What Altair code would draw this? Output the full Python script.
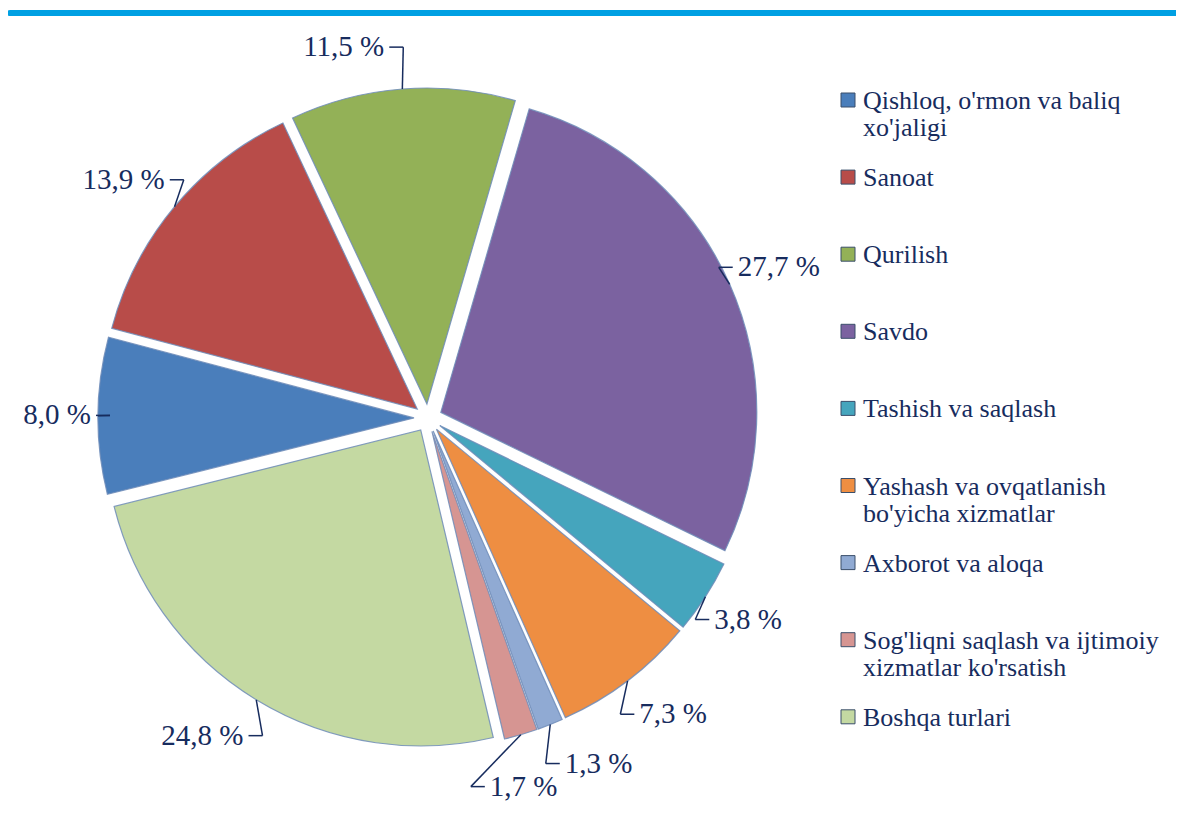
import altair as alt
import pandas as pd

categories = [
    "Qishloq, o'rmon va baliq xo'jaligi",
    "Sanoat",
    "Qurilish",
    "Savdo",
    "Tashish va saqlash",
    "Yashash va ovqatlanish bo'yicha xizmatlar",
    "Axborot va aloqa",
    "Sog'liqni saqlash va ijtimoiy xizmatlar ko'rsatish",
    "Boshqa turlari",
]
legend_labels = [
    "Qishloq, o'rmon va baliq\nxo'jaligi",
    "Sanoat",
    "Qurilish",
    "Savdo",
    "Tashish va saqlash",
    "Yashash va ovqatlanish\nbo'yicha xizmatlar",
    "Axborot va aloqa",
    "Sog'liqni saqlash va ijtimoiy\nxizmatlar ko'rsatish",
    "Boshqa turlari",
]
values = [8.0, 13.9, 11.5, 27.7, 3.8, 7.3, 1.3, 1.7, 24.8]
value_labels = ["8,0 %", "13,9 %", "11,5 %", "27,7 %", "3,8 %", "7,3 %", "1,3 %", "1,7 %", "24,8 %"]
colors = ["#4A7EBB", "#B84C49", "#93B157", "#7B62A0", "#45A5BD",
          "#EE8E42", "#90AAD3", "#D69592", "#C4D9A2"]

df = pd.DataFrame({
    "idx": list(range(len(categories))),
    "category": categories,
    "legend": legend_labels,
    "value": values,
    "label": value_labels,
})

W, H = 1168, 811
CX, CY = 420, 410      # pie centre (px)
R = 316                # pie radius
E = 14                 # explode distance
RX, RY = 318, 372      # leader-line elbow radii
S_DEG = 256            # first slice angle
TEXT = "#172C5E"
FONT = "Times New Roman"

xs = alt.Scale(domain=[0, W], range=[0, W], nice=False, zero=False)
ys = alt.Scale(domain=[0, H], range=[0, H], nice=False, zero=False)
color_scale = alt.Scale(domain=categories, range=colors)

base = (
    alt.Chart(df)
    .transform_window(cum="sum(value)", sort=[alt.SortField("idx")], frame=[None, 0])
    .transform_calculate(
        t1="datum.cum",
        t0="datum.cum - datum.value",
        mid=f"{S_DEG} + (datum.cum - datum.value/2) * 3.6",
    )
    .transform_window(prev="lag(mid)", sort=[alt.SortField("idx")])
    .transform_calculate(
        la="isValid(datum.prev) ? max(datum.mid, datum.prev + 14) : datum.mid",
    )
    .transform_calculate(
        mr="datum.mid * PI / 180",
        lr="datum.la * PI / 180",
    )
    .transform_calculate(
        cxp=f"{CX} + {E} * sin(datum.mr)",
        cyp=f"{CY} - {E} * cos(datum.mr)",
        p1x=f"{CX} + {R + E} * sin(datum.mr)",
        p1y=f"{CY} - {R + E} * cos(datum.mr)",
        p2x=f"{CX} + {RX} * sin(datum.lr)",
        p2y=f"{CY} - {RY} * cos(datum.lr)",
        side="sin(datum.lr) >= 0 ? 1 : -1",
    )
    .transform_calculate(
        p3x="datum.p2x + datum.side * 14",
        tx="datum.p2x + datum.side * 19",
    )
)

PI = 3.141592653589793
arcs = base.mark_arc(radius=R, stroke="#6E8CB8", strokeWidth=1.2, strokeOpacity=0.85).encode(
    x=alt.X("cxp:Q", scale=xs, axis=None),
    y=alt.Y("cyp:Q", scale=ys, axis=None),
    theta=alt.Theta("t0:Q", scale=alt.Scale(domain=[0, 100], range=[S_DEG * PI / 180, S_DEG * PI / 180 + 2 * PI])),
    theta2="t1:Q",
    color=alt.Color("category:N", scale=color_scale, legend=None),
)

lead1 = base.mark_rule(color=TEXT, strokeWidth=1.5).encode(
    x=alt.X("p1x:Q", scale=xs, axis=None), y=alt.Y("p1y:Q", scale=ys, axis=None),
    x2="p2x:Q", y2="p2y:Q",
)
lead2 = base.mark_rule(color=TEXT, strokeWidth=1.5).encode(
    x=alt.X("p2x:Q", scale=xs, axis=None), y=alt.Y("p2y:Q", scale=ys, axis=None),
    x2="p3x:Q", y2="p2y:Q",
)
txt_r = base.transform_filter("datum.side > 0").mark_text(
    align="left", baseline="middle", font=FONT, fontSize=29, color=TEXT
).encode(
    x=alt.X("tx:Q", scale=xs, axis=None), y=alt.Y("p2y:Q", scale=ys, axis=None), text="label:N"
)
txt_l = base.transform_filter("datum.side < 0").mark_text(
    align="right", baseline="middle", font=FONT, fontSize=29, color=TEXT
).encode(
    x=alt.X("tx:Q", scale=xs, axis=None), y=alt.Y("p2y:Q", scale=ys, axis=None), text="label:N"
)

# legend
LX, LY0, LP = 840, 92, 77.1
leg = alt.Chart(df).transform_calculate(
    ly=f"{LY0} + datum.idx * {LP}", lty=f"{LY0} + 9 + datum.idx * {LP}"
)
leg_sym = leg.mark_square(size=196, stroke="#3B4F6B", strokeWidth=1, opacity=1).encode(
    x=alt.value(LX),
    y=alt.Y("ly:Q", scale=ys, axis=None),
    color=alt.Color("category:N", scale=color_scale, legend=None),
)
leg_txt = leg.mark_text(
    align="left", baseline="alphabetic", font=FONT, fontSize=26, color=TEXT,
    lineBreak="\n", lineHeight=27,
).encode(
    x=alt.value(LX + 15),
    y=alt.Y("lty:Q", scale=ys, axis=None),
    text="legend:N",
)

bar = alt.Chart(pd.DataFrame({"a": [0]})).mark_rule(
    color="#00A0E3", strokeWidth=6, strokeCap="round"
).encode(x=alt.value(2), x2=alt.value(W), y=alt.value(5))

chart = alt.layer(bar, arcs, lead1, lead2, txt_r, txt_l, leg_sym, leg_txt).properties(
    width=W, height=H, padding=0, autosize=alt.AutoSizeParams(type="none")
).configure_view(stroke=None).configure_text(font=FONT)

chart.save("out.html", embed_options={"renderer": "svg", "actions": False})
